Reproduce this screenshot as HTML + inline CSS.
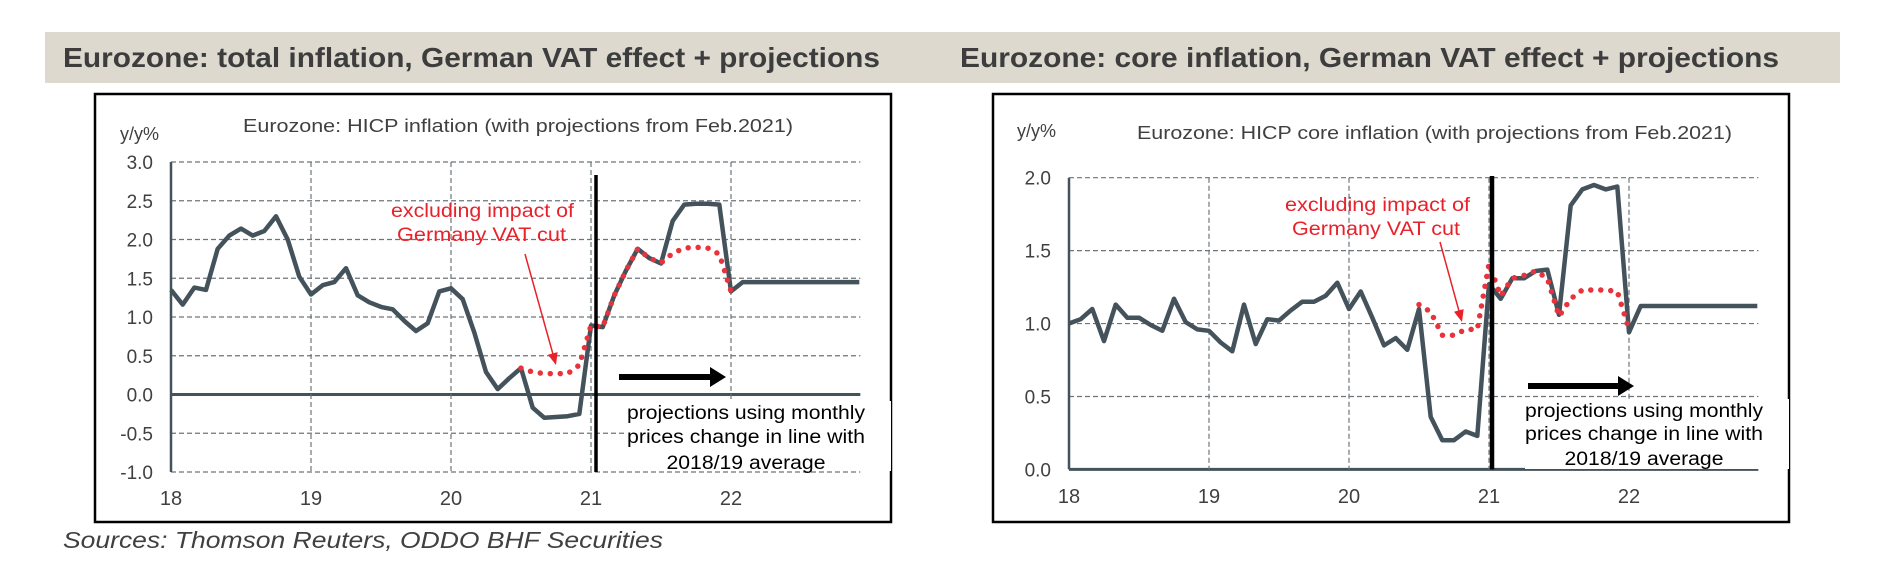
<!DOCTYPE html>
<html><head><meta charset="utf-8"><style>
html,body{margin:0;padding:0;background:#fff;}
svg{display:block;font-family:"Liberation Sans",Arial,sans-serif;}
</style></head><body>
<svg id="svg" width="1884" height="586" viewBox="0 0 1884 586" xmlns="http://www.w3.org/2000/svg">
  <rect x="45" y="32" width="1795" height="51" fill="#ddd9ce"/>
  <text x="63" y="67" font-size="28" font-weight="bold" fill="#3d3d3d" textLength="817" lengthAdjust="spacingAndGlyphs">Eurozone: total inflation, German VAT effect + projections</text>
  <text x="960" y="67" font-size="28" font-weight="bold" fill="#3d3d3d" textLength="819" lengthAdjust="spacingAndGlyphs">Eurozone: core inflation, German VAT effect + projections</text>
  <rect x="95" y="94" width="796" height="428" fill="#fff" stroke="#000" stroke-width="2.5"/>
  <rect x="993" y="94" width="796" height="428" fill="#fff" stroke="#000" stroke-width="2.5"/>
  <text x="63" y="548" font-size="23" font-style="italic" fill="#404040" textLength="600" lengthAdjust="spacingAndGlyphs">Sources: Thomson Reuters, ODDO BHF Securities</text>
  <g id="left"></g>
  <g id="right"></g>
</svg>
<script>
// ---- data (month index 0 = Jan 2018) ----
const yearLabels = ["18","19","20","21","22"];
const totalTicks = [3.0,2.5,2.0,1.5,1.0,0.5,0.0,-0.5,-1.0];
const coreTicks = [2.0,1.5,1.0,0.5,0.0];
const totalSeries = [1.35,1.16,1.38,1.35,1.88,2.05,2.14,2.05,2.11,2.30,2.0,1.52,1.29,1.41,1.45,1.63,1.28,1.19,1.13,1.10,0.95,0.82,0.92,1.33,1.37,1.23,0.80,0.29,0.07,0.21,0.34,-0.17,-0.30,-0.29,-0.28,-0.25,0.89,0.87,1.28,1.60,1.88,1.76,1.69,2.24,2.45,2.46,2.46,2.45,1.33,1.45,1.45,1.45,1.45,1.45,1.45,1.45,1.45,1.45,1.45,1.45];
const totalExVatStart = 30;
const totalExVat = [0.34,0.29,0.27,0.27,0.27,0.38,0.89,0.87,1.28,1.60,1.88,1.76,1.70,1.82,1.89,1.90,1.89,1.81,1.33];
const coreSeries = [1.0,1.03,1.1,0.88,1.13,1.04,1.04,0.99,0.95,1.17,1.01,0.96,0.95,0.87,0.81,1.13,0.86,1.03,1.02,1.09,1.15,1.15,1.19,1.28,1.1,1.22,1.04,0.85,0.9,0.82,1.1,0.36,0.2,0.2,0.26,0.23,1.27,1.17,1.31,1.31,1.36,1.37,1.06,1.81,1.92,1.95,1.92,1.94,0.94,1.12,1.12,1.12,1.12,1.12,1.12,1.12,1.12,1.12,1.12,1.12];
const coreExVatStart = 30;
const coreExVat = [1.13,1.08,0.92,0.92,0.96,0.96,1.41,1.19,1.31,1.33,1.36,1.31,1.05,1.17,1.23,1.23,1.23,1.22,0.96];

const NS="http://www.w3.org/2000/svg";
function mk(parent,tag,attrs,text){const e=document.createElementNS(NS,tag);for(const k in attrs)e.setAttribute(k,attrs[k]);if(text!==undefined)e.textContent=text;parent.appendChild(e);return e;}

function drawChart(g,cfg){
  const X=i=>cfg.x0+i*140/12;
  const Y=v=>cfg.yTop+(cfg.vMax-v)*(cfg.yBot-cfg.yTop)/(cfg.vMax-cfg.vMin);
  const xEnd=cfg.x0+59*140/12+1;
  // grid
  cfg.ticks.forEach(v=>{
    let solid=(v===0);
    const l=mk(g,'line',{x1:cfg.x0,x2:xEnd,y1:Y(v),y2:Y(v),stroke:solid?'#44525c':'#6d747a','stroke-width':solid?3:1.2,'stroke-dasharray':solid?'none':'5 3'});
    
    
    const t=mk(g,'text',{x:cfg.x0-18,y:Y(v)+7,'font-size':19,'text-anchor':'end',fill:'#404040'},v.toFixed(1));
    
    
  });
  yearLabels.forEach((lab,k)=>{
    const x=X(k*12);
    if(k>0){
      const l=mk(g,'line',{x1:x,x2:x,y1:cfg.yTop,y2:cfg.yBot,stroke:'#6d747a','stroke-width':1.2,'stroke-dasharray':'5 3'});
      
      
    }
    const t=mk(g,'text',{x:x,y:cfg.xLabY,'font-size':20,'text-anchor':'middle',fill:'#404040'},lab);
    
    
  });
  const ax=mk(g,'line',{x1:cfg.x0,x2:cfg.x0,y1:cfg.yTop,y2:cfg.yBot,stroke:'#44525c','stroke-width':2.5});
  
  
  // main series
  const pts=cfg.series.map((v,i)=>X(i).toFixed(1)+','+Y(v).toFixed(1)).join(' ');
  const pl=mk(g,'polyline',{points:pts,fill:'none',stroke:'#44525c','stroke-width':4.5,'stroke-linejoin':'round'});
  
  
  const rp=cfg.ex.map((v,i)=>X(i+cfg.exStart).toFixed(1)+','+Y(v).toFixed(1)).join(' ');
  const rl=mk(g,'polyline',{points:rp,fill:'none',stroke:'#e8323c','stroke-width':5.5,'stroke-linecap':'round','stroke-dasharray':'0 10'});
  
  
  // projection start line
  const vl=mk(g,'line',{x1:cfg.vx,x2:cfg.vx,y1:cfg.vTop,y2:cfg.yBot,stroke:'#000','stroke-width':cfg.vw});
  
  
}

const L=document.getElementById('left');
drawChart(L,{x0:171,yTop:162,yBot:472,vMax:3,vMin:-1,ticks:totalTicks,series:totalSeries,ex:totalExVat,exStart:totalExVatStart,xLabY:505,vx:596,vTop:175,vw:3.5});
const R=document.getElementById('right');
drawChart(R,{x0:1069,yTop:177.7,yBot:469.4,vMax:2,vMin:0,ticks:coreTicks,series:coreSeries,ex:coreExVat,exStart:coreExVatStart,xLabY:503,vx:1492,vTop:176,vw:4.5});

function annotations(g,a){
  let t=mk(g,'text',{x:a.yx,y:a.yy,'font-size':18,fill:'#404040'},'y/y%');
  
  
  t=mk(g,'text',{x:a.sx,y:a.sy,'font-size':18,fill:'#404040',textLength:a.sw,lengthAdjust:'spacingAndGlyphs'},a.sub);
  
  
  t=mk(g,'text',{x:a.r1x,y:a.r1y,'font-size':19,fill:'#e8212b',textLength:a.r1w,lengthAdjust:'spacingAndGlyphs'},'excluding impact of');
  
  
  t=mk(g,'text',{x:a.r2x,y:a.r1y+24,'font-size':19,fill:'#e8212b',textLength:a.r2w,lengthAdjust:'spacingAndGlyphs'},'Germany VAT cut');
  
  
  // red arrow
  const dx=a.ax2-a.ax1,dy=a.ay2-a.ay1,len=Math.hypot(dx,dy),ux=dx/len,uy=dy/len;
  let l=mk(g,'line',{x1:a.ax1,y1:a.ay1,x2:a.ax2-ux*8,y2:a.ay2-uy*8,stroke:'#e8212b','stroke-width':1.5});
  
  
  const hx=a.ax2-ux*12,hy=a.ay2-uy*12;
  let p=mk(g,'polygon',{points:`${a.ax2},${a.ay2} ${hx-uy*5},${hy+ux*5} ${hx+uy*5},${hy-ux*5}`,fill:'#e8212b'});
  
  
  // white box + projection text
  let b=mk(g,'rect',{x:a.bx,y:a.by,width:a.bw,height:70,fill:'#fff'});
  
  
  const lines=['projections using monthly','prices change in line with','2018/19 average'];
  lines.forEach((s,k)=>{
    const w=k<2?238:159;
    const tt=mk(g,'text',{x:a.tcx,y:a.ty[k],'font-size':19,fill:'#000','text-anchor':'middle',textLength:w,lengthAdjust:'spacingAndGlyphs'},s);
    
    
  });
  // black arrow
  l=mk(g,'line',{x1:a.kx1,y1:a.ky,x2:a.kx2-14,y2:a.ky,stroke:'#000','stroke-width':6});
  
  
  p=mk(g,'polygon',{points:`${a.kx2},${a.ky} ${a.kx2-16},${a.ky-10} ${a.kx2-16},${a.ky+10}`,fill:'#000'});
  
  
}
annotations(L,{yx:120,yy:140,sx:243,sy:132,sw:550,sub:'Eurozone: HICP inflation (with projections from Feb.2021)',
  r1x:391,r1y:217,r1w:183,r2x:397,r2w:169,ax1:525,ay1:254,ax2:556,ay2:365,
  bx:625,by:401,bw:266,tcx:746,ty:[419,443,469],kx1:619,kx2:726,ky:377});
annotations(R,{yx:1017,yy:137,sx:1137,sy:139,sw:595,sub:'Eurozone: HICP core inflation (with projections from Feb.2021)',
  r1x:1285,r1y:211,r1w:185,r2x:1292,r2w:168,ax1:1440,ay1:242,ax2:1462,ay2:322,
  bx:1525,by:399,bw:264,tcx:1644,ty:[417,440,465],kx1:1528,kx2:1634,ky:386});
</script>
</body></html>
